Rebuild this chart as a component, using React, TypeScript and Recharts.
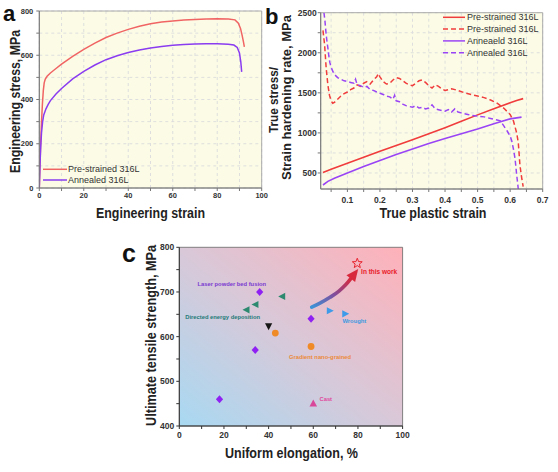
import React from 'react';
import {
  LineChart, Line, XAxis, YAxis, CartesianGrid, ReferenceArea, Legend,
  ComposedChart, Scatter,
} from 'recharts';

const FONT = "'Liberation Sans', Arial, Helvetica, sans-serif";

// ---------------- Panel a: engineering stress-strain ----------------
const aPreStrain = [0, 0.3, 0.6, 1.0, 1.4, 1.8, 2.2, 2.7, 3.5, 5, 7.5, 10, 15, 20, 25, 30, 35, 40, 45, 50, 55, 60, 65, 70, 75, 80, 85, 88, 89.5, 90.5, 91.2, 91.8, 92.2];
const aPreStress = [0, 100, 200, 300, 380, 440, 475, 492, 505, 520, 540, 560, 595, 627, 655, 680, 700, 717, 731, 742, 750, 755, 759, 762, 764, 765, 764, 760, 745, 720, 690, 660, 638];
const aAnnStrain = [0, 0.3, 0.6, 1.0, 1.5, 2, 3, 4, 5, 7.5, 10, 15, 20, 25, 30, 35, 40, 45, 50, 55, 60, 65, 70, 75, 80, 85, 87.5, 89, 90, 90.6, 91];
const aAnnStress = [0, 100, 180, 250, 300, 330, 358, 378, 395, 425, 450, 493, 527, 556, 580, 598, 612, 624, 633, 640, 645, 649, 651, 652, 652, 650, 646, 635, 610, 570, 525];
const aXTicks = [0, 10, 20, 30, 40, 50, 60, 70, 80, 90, 100];
const aYTicks = [0, 100, 200, 300, 400, 500, 600, 700, 800];
const aNames = ['Pre-strained 316L', 'Annealed 316L'];

// ---------------- Panel b: true stress / strain hardening ----------------
const bPreTSx = [0.025, 0.05, 0.1, 0.15, 0.2, 0.25, 0.3, 0.35, 0.4, 0.45, 0.5, 0.55, 0.6, 0.62, 0.64];
const bPreTSy = [505, 545, 620, 695, 770, 842, 915, 990, 1065, 1145, 1225, 1300, 1375, 1405, 1428];
const bAnnTSx = [0.025, 0.04, 0.06, 0.1, 0.15, 0.2, 0.25, 0.3, 0.35, 0.4, 0.45, 0.5, 0.55, 0.6, 0.635];
const bAnnTSy = [350, 395, 435, 500, 580, 655, 730, 800, 868, 930, 990, 1050, 1115, 1175, 1197];
const bPreHRx = [0.025, 0.03, 0.035, 0.04, 0.045, 0.05, 0.055, 0.06, 0.07, 0.08, 0.09, 0.1, 0.11, 0.12, 0.13, 0.14, 0.15, 0.16, 0.17, 0.18, 0.19, 0.195, 0.2, 0.21, 0.22, 0.23, 0.24, 0.25, 0.26, 0.27, 0.28, 0.29, 0.3, 0.31, 0.32, 0.33, 0.34, 0.35, 0.36, 0.37, 0.38, 0.39, 0.4, 0.42, 0.44, 0.46, 0.48, 0.5, 0.52, 0.54, 0.56, 0.58, 0.6, 0.61, 0.62, 0.625, 0.63, 0.635, 0.64];
const bPreHRy = [2280, 2100, 1800, 1600, 1470, 1400, 1370, 1380, 1420, 1460, 1490, 1510, 1540, 1560, 1600, 1580, 1620, 1640, 1610, 1660, 1700, 1740, 1700, 1640, 1610, 1620, 1660, 1690, 1680, 1650, 1620, 1600, 1590, 1620, 1650, 1660, 1630, 1590, 1560, 1600, 1580, 1550, 1530, 1550, 1530, 1500, 1480, 1460, 1440, 1410, 1370, 1310, 1230, 1150, 1000, 880, 600, 450, 330];
const bAnnHRx = [0.028, 0.031, 0.034, 0.037, 0.04, 0.043, 0.046, 0.05, 0.055, 0.06, 0.07, 0.08, 0.09, 0.1, 0.11, 0.12, 0.125, 0.13, 0.14, 0.15, 0.16, 0.17, 0.18, 0.19, 0.2, 0.21, 0.22, 0.23, 0.24, 0.245, 0.25, 0.26, 0.27, 0.28, 0.29, 0.3, 0.31, 0.32, 0.33, 0.34, 0.35, 0.36, 0.37, 0.38, 0.39, 0.4, 0.41, 0.42, 0.43, 0.44, 0.45, 0.46, 0.47, 0.48, 0.5, 0.52, 0.54, 0.56, 0.57, 0.58, 0.59, 0.6, 0.605, 0.61, 0.615, 0.62, 0.625];
const bAnnHRy = [2500, 2400, 2260, 2150, 2060, 1960, 1880, 1820, 1770, 1730, 1690, 1670, 1650, 1640, 1630, 1620, 1670, 1600, 1590, 1570, 1580, 1540, 1530, 1510, 1495, 1480, 1460, 1450, 1420, 1470, 1400, 1390, 1360, 1340, 1330, 1320, 1340, 1310, 1320, 1300, 1310, 1350, 1300, 1290, 1280, 1270, 1290, 1260, 1300, 1260, 1250, 1240, 1230, 1220, 1210, 1200, 1180, 1160, 1150, 1090, 1030, 960, 900, 800, 680, 480, 300];
const bXTicks = [0.05, 0.1, 0.15, 0.2, 0.25, 0.3, 0.35, 0.4, 0.45, 0.5, 0.55, 0.6, 0.65, 0.7];
const bYTicks = [500, 750, 1000, 1250, 1500, 1750, 2000, 2250, 2500];
const bNames = ['Pre-strained 316L', 'Pre-strained 316L', 'Anneaeld 316L', 'Annealed 316L'];

// ---------------- Panel c: UTS vs uniform elongation ----------------
const cLpbfX = [36, 34, 18, 59];
const cLpbfY = [700, 570, 460, 640];
const cDedX = [30, 34, 46];
const cDedY = [660, 672, 690];
const cOtherX = [40];
const cOtherY = [623];
const cGngX = [43, 59];
const cGngY = [608, 578];
const cWroughtX = [67.5, 74.4];
const cWroughtY = [658, 651];
const cCastX = [60];
const cCastY = [451];
const cWorkX = [79.7];
const cWorkY = [764];
const cArrowX = [59.3, 63, 67.5, 71.5, 74.5, 76.8];
const cArrowY = [666, 675, 688, 702, 716, 730];
const cLabelText = ['Laser powder bed fusion', 'Directed energy deposition', 'Wrought', 'Gradient nano-grained', 'Cast', 'In this work'];
const cLabelX = [23.5, 19.4, 78.4, 63, 65.6, 89.5];
const cLabelY = [719, 643, 634, 555, 461, 745];
const cXTicks = [0, 10, 20, 30, 40, 50, 60, 70, 80, 90, 100];
const cYTicks = [400, 450, 500, 550, 600, 650, 700, 750, 800];

// ---------------- colours ----------------
const RED_A = '#f06464';
const PURPLE_A = '#8a3cf0';
const RED_B = '#f03c3c';
const PURPLE_B = '#9a45f5';
const C_PURPLE = '#8f22f2';
const C_TEAL = '#2d8a70';
const C_BLACK = '#161616';
const C_ORANGE = '#ef8a26';
const C_BLUE = '#3d9be9';
const C_PINK = '#d9479b';
const C_RED = '#e8242f';
const cLabelColor = ['#7a3ad0', '#1e7a78', '#3a9ae0', '#ec8a3a', '#e0489c', '#e8202a'];

const pts = (xs: number[], ys: number[]) => xs.map((x, i) => ({ x, y: ys[i] }));

const tickStyle = (size: number) => ({ fontSize: size, fontWeight: 700, fill: '#333', fontFamily: FONT });

// ---------- shapes for panel c ----------
const Diamond = (color: string) => (p: any) => (
  <polygon points={`${p.cx},${p.cy - 4} ${p.cx + 3.6},${p.cy} ${p.cx},${p.cy + 4} ${p.cx - 3.6},${p.cy}`} fill={color} />
);
const TriLeft = (color: string) => (p: any) => (
  <polygon points={`${p.cx - 3.8},${p.cy} ${p.cx + 3.2},${p.cy - 3.6} ${p.cx + 3.2},${p.cy + 3.6}`} fill={color} />
);
const TriRight = (color: string) => (p: any) => (
  <polygon points={`${p.cx + 3.8},${p.cy} ${p.cx - 3.2},${p.cy - 3.6} ${p.cx - 3.2},${p.cy + 3.6}`} fill={color} />
);
const TriDown = (color: string) => (p: any) => (
  <polygon points={`${p.cx},${p.cy + 3.8} ${p.cx - 3.6},${p.cy - 3.2} ${p.cx + 3.6},${p.cy - 3.2}`} fill={color} />
);
const TriUp = (color: string) => (p: any) => (
  <polygon points={`${p.cx},${p.cy - 3.8} ${p.cx - 3.8},${p.cy + 3.4} ${p.cx + 3.8},${p.cy + 3.4}`} fill={color} />
);
const Dot = (color: string) => (p: any) => <circle cx={p.cx} cy={p.cy} r={3.4} fill={color} />;
const Star = (color: string) => (p: any) => {
  const out: string[] = [];
  for (let i = 0; i < 10; i++) {
    const r = i % 2 === 0 ? 5.2 : 2.2;
    const a = -Math.PI / 2 + (i * Math.PI) / 5;
    out.push(`${p.cx + r * Math.cos(a)},${p.cy + r * Math.sin(a)}`);
  }
  return <polygon points={out.join(' ')} fill="none" stroke={color} strokeWidth={1} />;
};
const TextShape = (p: any) => (
  <text x={p.cx} y={p.cy} dy="0.35em" textAnchor="middle" fontFamily={FONT} fontWeight={700}
    fontSize={p.payload.text === 'In this work' ? 6.5 : 5.8} fill={p.payload.color}>
    {p.payload.text}
  </text>
);
const ARROW_ANGLE = (-52 * Math.PI) / 180;
const ArrowDot = (last: number) => (p: any) => {
  if (p.index !== last) return <g key={`ad${p.index}`} />;
  const c = Math.cos(ARROW_ANGLE), s = Math.sin(ARROW_ANGLE);
  const tip = [p.cx + 12 * c, p.cy + 12 * s];
  const b1 = [p.cx - 5.5 * -s, p.cy - 5.5 * c];
  const b2 = [p.cx + 5.5 * -s, p.cy + 5.5 * c];
  return <polygon key="arrowhead" points={`${tip[0]},${tip[1]} ${b1[0]},${b1[1]} ${b2[0]},${b2[1]}`} fill="#d8283c" />;
};

// ---------- legends ----------
const LegendA = () => (
  <svg width={110} height={24} style={{ display: 'block', overflow: 'visible' }}>
    {aNames.map((n, i) => (
      <g key={i}>
        <line x1={0} x2={24} y1={6.3 + i * 10.7} y2={6.3 + i * 10.7} stroke={i === 0 ? RED_A : PURPLE_A} strokeWidth={1.5} />
        <text x={25} y={6.3 + i * 10.7} dy="0.35em" fontSize={9} fill="#333" fontFamily={FONT}>{n}</text>
      </g>
    ))}
  </svg>
);
const LegendB = () => (
  <svg width={110} height={50} style={{ display: 'block', overflow: 'visible' }}>
    {bNames.map((n, i) => (
      <g key={i}>
        <line x1={0} x2={22} y1={7.3 + i * 11.8} y2={7.3 + i * 11.8} stroke={i < 2 ? RED_B : PURPLE_B} strokeWidth={1.5}
          strokeDasharray={i % 2 === 1 ? '5 3' : undefined} />
        <text x={24} y={7.3 + i * 11.8} dy="0.35em" fontSize={9} fill="#333" fontFamily={FONT}>{n}</text>
      </g>
    ))}
  </svg>
);

const titleProps = { fontFamily: FONT, fontWeight: 700, fill: '#222', lengthAdjust: 'spacingAndGlyphs' as const };

const TitlesA = () => (
  <g>
    <text x={3} y={20.5} fontSize={22} fontWeight={700} fontFamily={FONT} fill="#111">a</text>
    <text transform="translate(20,101.5) rotate(-90)" textAnchor="middle" fontSize={14} textLength={143} {...titleProps}>Engineering stress, MPa</text>
    <text x={150.5} y={218} textAnchor="middle" fontSize={14} textLength={109} {...titleProps}>Engineering strain</text>
  </g>
);
const TitlesB = () => (
  <g>
    <text x={3} y={23.5} fontSize={22} fontWeight={700} fontFamily={FONT} fill="#111">b</text>
    <text transform="translate(15.5,100) rotate(-90)" textAnchor="middle" fontSize={13} textLength={66} {...titleProps}>True stress/</text>
    <text transform="translate(28.5,97.5) rotate(-90)" textAnchor="middle" fontSize={13} textLength={165} {...titleProps}>Strain hardening rate, MPa</text>
    <text x={171} y={218} textAnchor="middle" fontSize={14} textLength={107} {...titleProps}>True plastic strain</text>
  </g>
);
const TitlesC = () => (
  <g>
    <text x={22} y={27} fontSize={25} fontWeight={700} fontFamily={FONT} fill="#111">c</text>
    <text transform="translate(56,100.5) rotate(-90) scale(0.82,1)" textAnchor="middle" fontSize={14} textLength={220.7} {...titleProps}>Ultimate tensile strength, MPa</text>
    <text x={191.5} y={223} textAnchor="middle" fontSize={14} textLength={133} {...titleProps}>Uniform elongation, %</text>
  </g>
);

export default function App() {
  const aPre = pts(aPreStrain, aPreStress);
  const aAnn = pts(aAnnStrain, aAnnStress);
  const bPreTS = pts(bPreTSx, bPreTSy);
  const bAnnTS = pts(bAnnTSx, bAnnTSy);
  const bPreHR = pts(bPreHRx, bPreHRy);
  const bAnnHR = pts(bAnnHRx, bAnnHRy);
  const cLabels = cLabelText.map((t, i) => ({ x: cLabelX[i], y: cLabelY[i], text: t, color: cLabelColor[i] }));
  const arrow = pts(cArrowX, cArrowY);

  return (
    <div style={{ position: 'absolute', left: 0, top: 0, width: 558, height: 472, background: '#fff', overflow: 'hidden' }}>
      {/* Panel a */}
      <div style={{ position: 'absolute', left: 0, top: 0 }}>
        <LineChart width={270} height={232} margin={{ top: 11, right: 8.3, bottom: 0, left: 0 }}>
          <CartesianGrid stroke="#dedede" strokeDasharray="3 3" fill="#fcfce6" />
          <XAxis type="number" dataKey="x" domain={[0, 100]} ticks={aXTicks} height={44} tickSize={3} tickMargin={2}
            tickFormatter={(v: number) => (v % 20 === 0 ? String(v) : '')} tick={tickStyle(7.5)}
            axisLine={{ stroke: '#777' }} tickLine={{ stroke: '#777' }} allowDataOverflow />
          <YAxis type="number" domain={[0, 800]} ticks={aYTicks} width={39.3} tickSize={3} tickMargin={3}
            tickFormatter={(v: number) => (v % 200 === 0 ? String(v) : '')} tick={tickStyle(7.5)}
            axisLine={{ stroke: '#777' }} tickLine={{ stroke: '#777' }} allowDataOverflow />
          <ReferenceArea x1={0} x2={100} y1={0} y2={800} fill="none" stroke="#aaa" strokeWidth={1} ifOverflow="visible" />
          <Line data={aPre} dataKey="y" stroke={RED_A} strokeWidth={1.5} dot={false} activeDot={false} isAnimationActive={false} />
          <Line data={aAnn} dataKey="y" stroke={PURPLE_A} strokeWidth={1.5} dot={false} activeDot={false} isAnimationActive={false} />
          <Legend layout="vertical" align="center" verticalAlign="middle" content={LegendA}
            wrapperStyle={{ left: 43, top: 163, width: 110, height: 24, margin: 0, padding: 0 }} />
          <TitlesA />
        </LineChart>
      </div>

      {/* Panel b */}
      <div style={{ position: 'absolute', left: 262, top: 0 }}>
        <LineChart width={296} height={232} margin={{ top: 12.7, right: 15.3, bottom: 0, left: 0 }}>
          <CartesianGrid stroke="#dedede" strokeDasharray="3 3" fill="#fcfce6" />
          <XAxis type="number" dataKey="x" domain={[0.018, 0.7]} ticks={bXTicks} height={43} tickSize={3} tickMargin={5}
            tickFormatter={(v: number) => (Math.round(v * 100) % 10 === 0 ? v.toFixed(1) : '')} tick={tickStyle(8.5)}
            axisLine={{ stroke: '#777' }} tickLine={{ stroke: '#777' }} allowDataOverflow />
          <YAxis type="number" domain={[300, 2500]} ticks={bYTicks} width={58.7} tickSize={3} tickMargin={1}
            tickFormatter={(v: number) => (v % 500 === 0 ? String(v) : '')} tick={tickStyle(8.5)}
            axisLine={{ stroke: '#777' }} tickLine={{ stroke: '#777' }} allowDataOverflow />
          <ReferenceArea x1={0.018} x2={0.7} y1={300} y2={2500} fill="none" stroke="#aaa" strokeWidth={1} ifOverflow="visible" />
          <Line data={bPreTS} dataKey="y" stroke={RED_B} strokeWidth={1.6} dot={false} activeDot={false} isAnimationActive={false} />
          <Line data={bPreHR} dataKey="y" stroke={RED_B} strokeWidth={1.5} strokeDasharray="5 3" dot={false} activeDot={false} isAnimationActive={false} />
          <Line data={bAnnTS} dataKey="y" stroke={PURPLE_B} strokeWidth={1.6} dot={false} activeDot={false} isAnimationActive={false} />
          <Line data={bAnnHR} dataKey="y" stroke={PURPLE_B} strokeWidth={1.5} strokeDasharray="5 3" dot={false} activeDot={false} isAnimationActive={false} />
          <Legend layout="vertical" align="center" verticalAlign="middle" content={LegendB}
            wrapperStyle={{ left: 181, top: 10, width: 110, height: 50, margin: 0, padding: 0 }} />
          <TitlesB />
        </LineChart>
      </div>

      {/* Panel c */}
      <div style={{ position: 'absolute', left: 100, top: 235 }}>
        <ComposedChart width={330} height={237} margin={{ top: 12.3, right: 27.4, bottom: 0, left: 0 }}>
          <defs>
            <linearGradient id="bgC" x1="0" y1="1" x2="1" y2="0">
              <stop offset="0" stopColor="#a8d9f2" />
              <stop offset="0.5" stopColor="#d9c8d8" />
              <stop offset="1" stopColor="#ffb1b9" />
            </linearGradient>
            <linearGradient id="arrowGrad" x1="0" y1="1" x2="1" y2="0">
              <stop offset="0" stopColor="#3b93d8" />
              <stop offset="0.5" stopColor="#7e4f9e" />
              <stop offset="1" stopColor="#d8283c" />
            </linearGradient>
          </defs>
          <CartesianGrid horizontal={false} vertical={false} fill="url(#bgC)" />
          <XAxis type="number" dataKey="x" domain={[0, 100]} ticks={cXTicks} height={46} tickSize={3} tickMargin={3}
            tickFormatter={(v: number) => (v % 20 === 0 ? String(v) : '')} tick={tickStyle(8.5)}
            axisLine={{ stroke: '#333' }} tickLine={{ stroke: '#333' }} allowDataOverflow />
          <YAxis type="number" dataKey="y" domain={[400, 800]} ticks={cYTicks} width={79.3} tickSize={3} tickMargin={2}
            tickFormatter={(v: number) => (v % 100 === 0 ? String(v) : '')} tick={tickStyle(8.5)}
            axisLine={{ stroke: '#333' }} tickLine={{ stroke: '#333' }} allowDataOverflow />
          <ReferenceArea x1={0} x2={100} y1={400} y2={800} fill="none" stroke="#666" strokeWidth={0.8} ifOverflow="visible" />
          <Line data={arrow} dataKey="y" type="monotone" stroke="url(#arrowGrad)" strokeWidth={3.6} strokeLinecap="round"
            dot={ArrowDot(arrow.length - 1)} activeDot={false} isAnimationActive={false} />
          <Scatter data={pts(cLpbfX, cLpbfY)} dataKey="y" shape={Diamond(C_PURPLE)} isAnimationActive={false} />
          <Scatter data={pts(cDedX, cDedY)} dataKey="y" shape={TriLeft(C_TEAL)} isAnimationActive={false} />
          <Scatter data={pts(cOtherX, cOtherY)} dataKey="y" shape={TriDown(C_BLACK)} isAnimationActive={false} />
          <Scatter data={pts(cGngX, cGngY)} dataKey="y" shape={Dot(C_ORANGE)} isAnimationActive={false} />
          <Scatter data={pts(cWroughtX, cWroughtY)} dataKey="y" shape={TriRight(C_BLUE)} isAnimationActive={false} />
          <Scatter data={pts(cCastX, cCastY)} dataKey="y" shape={TriUp(C_PINK)} isAnimationActive={false} />
          <Scatter data={pts(cWorkX, cWorkY)} dataKey="y" shape={Star(C_RED)} isAnimationActive={false} />
          <Scatter data={cLabels} dataKey="y" shape={TextShape} isAnimationActive={false} />
          <TitlesC />
        </ComposedChart>
      </div>
    </div>
  );
}
